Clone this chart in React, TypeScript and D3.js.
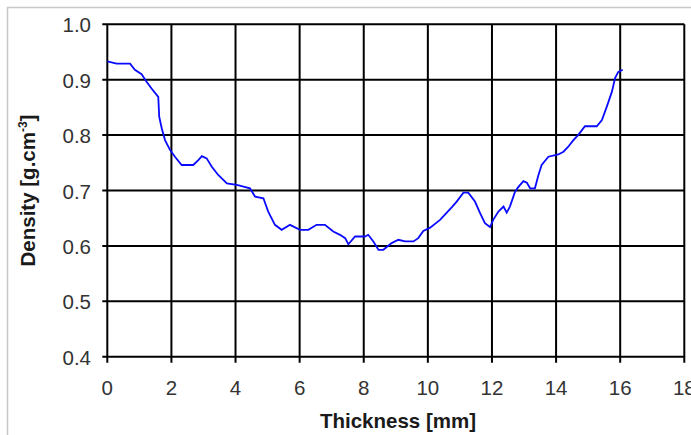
import React from "react";
import { scaleLinear, line, curveLinear, range } from "d3";

// density profile
const thickness = [
  0.0, 0.29, 0.71, 0.86, 1.07, 1.23, 1.38, 1.59, 1.62, 1.7, 1.8, 1.96, 2.11,
  2.32, 2.68, 2.84, 2.95, 3.1, 3.26, 3.46, 3.73, 4.04, 4.19, 4.45, 4.61, 4.87,
  5.02, 5.23, 5.44, 5.7, 6.01, 6.27, 6.53, 6.79, 7.05, 7.26, 7.42, 7.52, 7.73,
  8.04, 8.14, 8.3, 8.46, 8.61, 8.87, 9.08, 9.29, 9.55, 9.7, 9.86, 10.07, 10.38,
  10.75, 10.9, 11.11, 11.26, 11.47, 11.63, 11.78, 11.94, 12.04, 12.2, 12.36,
  12.46, 12.56, 12.72, 12.82, 12.98, 13.09, 13.19, 13.34, 13.45, 13.55, 13.76,
  14.07, 14.23, 14.38, 14.54, 14.7, 14.9, 15.27, 15.43, 15.58, 15.74, 15.84,
  15.94, 16.08,
];
const density = [
  0.933, 0.929, 0.929, 0.918, 0.91, 0.896, 0.884, 0.869, 0.833, 0.812, 0.791,
  0.773, 0.761, 0.746, 0.746, 0.755, 0.762, 0.758, 0.743, 0.728, 0.713, 0.71,
  0.708, 0.704, 0.689, 0.686, 0.662, 0.638, 0.629, 0.638, 0.629, 0.629, 0.638,
  0.638, 0.626, 0.62, 0.614, 0.603, 0.617, 0.617, 0.62, 0.608, 0.593, 0.593,
  0.605, 0.611, 0.608, 0.608, 0.614, 0.627, 0.633, 0.647, 0.67, 0.68, 0.696,
  0.696, 0.68, 0.659, 0.641, 0.634, 0.647, 0.662, 0.671, 0.66, 0.671, 0.698,
  0.706, 0.717, 0.714, 0.704, 0.704, 0.728, 0.746, 0.761, 0.765, 0.77, 0.779,
  0.791, 0.801, 0.816, 0.816, 0.827, 0.851, 0.878, 0.903, 0.914, 0.918,
];
const xTicks = [0, 2, 4, 6, 8, 10, 12, 14, 16, 18];
const yTicks = [0.4, 0.5, 0.6, 0.7, 0.8, 0.9, 1.0];

const W = 691;
const H = 435;
const font = "Arial, 'Liberation Sans', sans-serif";

export default function App() {
  const xScale = scaleLinear().domain([0, 18]).range([107.3, 684.3]);
  const yScale = scaleLinear().domain([0.4, 1.0]).range([356.7, 24.3]);

  const pts = range(thickness.length).map((i) => [thickness[i], density[i]]);
  const path = line<number[]>()
    .x((d) => xScale(d[0]))
    .y((d) => yScale(d[1]))
    .curve(curveLinear)(pts);

  const top = yScale(1.0);
  const bottom = yScale(0.4);
  const left = xScale(0);
  const right = xScale(18);

  return (
    <svg
      width={W}
      height={H}
      style={{ position: "absolute", left: 0, top: 0, background: "#fff" }}
    >
      {/* outer frame, cut off by the picture on right and bottom */}
      <rect x={7.5} y={7.5} width={W + 20} height={H + 20} fill="#fff" stroke="#c8c8c8" strokeWidth={1.5} />

      {/* grid */}
      {yTicks.map((t) => (
        <line key={"h" + t} x1={left - 5} x2={right} y1={yScale(t)} y2={yScale(t)} stroke="#000" strokeWidth={2} />
      ))}
      {xTicks.map((t) => (
        <line key={"v" + t} x1={xScale(t)} x2={xScale(t)} y1={top} y2={bottom + 6} stroke="#000" strokeWidth={2} />
      ))}

      <path d={path || ""} fill="none" stroke="#0a0aff" strokeWidth={1.8} />

      {/* tick labels */}
      {yTicks.map((t) => (
        <text
          key={"yl" + t}
          x={91}
          y={yScale(t) + 8}
          textAnchor="end"
          fontFamily={font}
          fontSize={20.5}
          fill="#333"
        >
          {t.toFixed(1)}
        </text>
      ))}
      {xTicks.map((t) => (
        <text
          key={"xl" + t}
          x={xScale(t)}
          y={395}
          textAnchor="middle"
          fontFamily={font}
          fontSize={20.5}
          fill="#333"
        >
          {t}
        </text>
      ))}

      {/* axis titles */}
      <text
        x={398}
        y={428}
        textAnchor="middle"
        fontFamily={font}
        fontSize={20.5}
        fontWeight="bold"
        fill="#1a1a1a"
      >
        Thickness [mm]
      </text>
      <text
        transform={`translate(35, ${(top + bottom) / 2}) rotate(-90)`}
        textAnchor="middle"
        fontFamily={font}
        fontSize={20.5}
        fontWeight="bold"
        fill="#1a1a1a"
      >
        Density [g.cm
        <tspan fontSize={12} dy={-8}>-3</tspan>
        <tspan dy={8}>]</tspan>
      </text>
    </svg>
  );
}
